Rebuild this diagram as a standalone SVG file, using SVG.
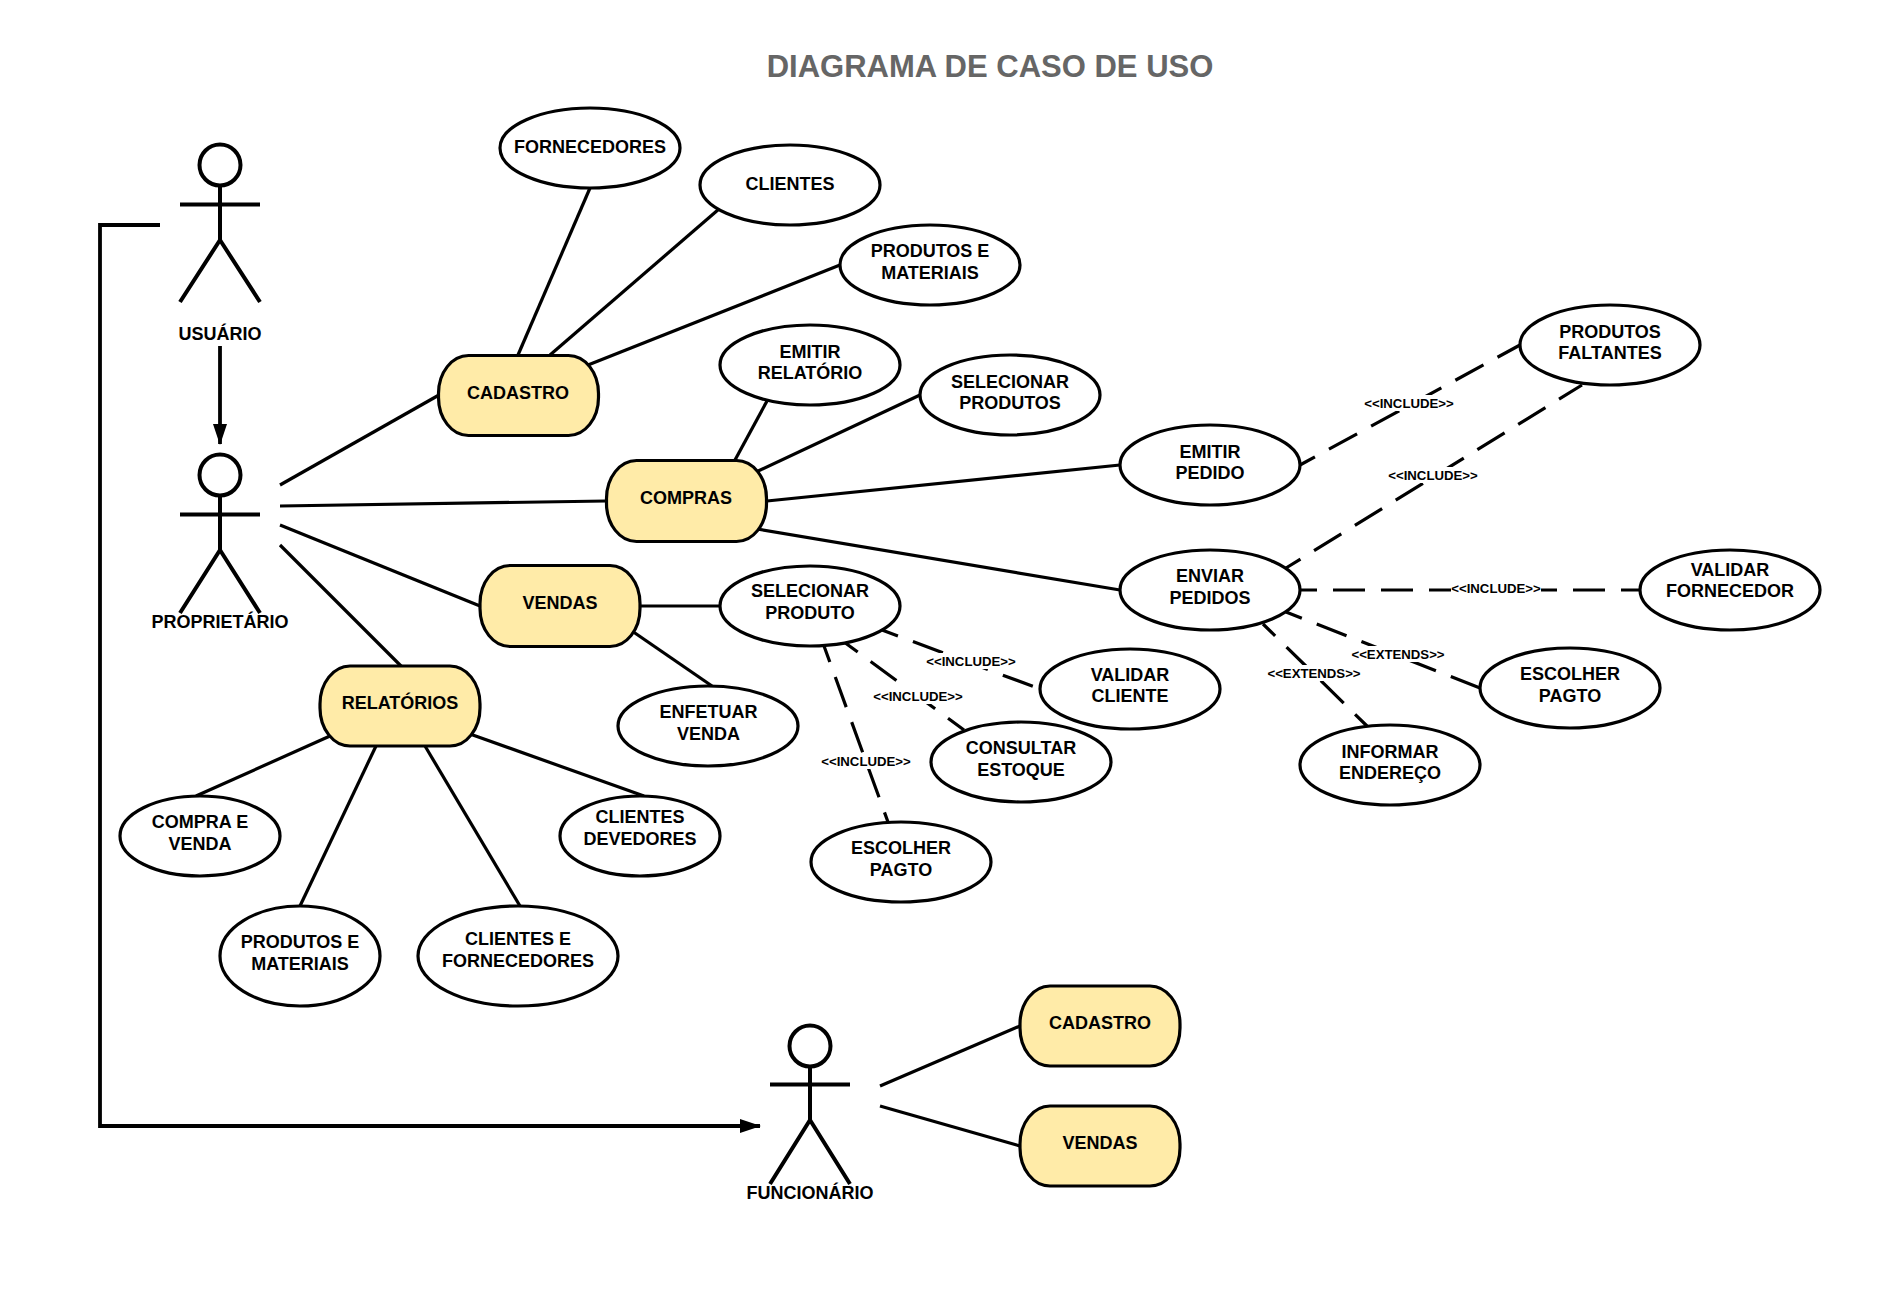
<svg xmlns="http://www.w3.org/2000/svg" width="1881" height="1289" viewBox="0 0 1881 1289">
<style>
text{font-family:"Liberation Sans",Arial,sans-serif;text-anchor:middle;fill:#000}
.t{font-size:18px;font-weight:bold}
.s{font-size:13.2px;font-weight:bold}
.title{font-size:31px;font-weight:bold;fill:#666}
.uc{fill:#fff;stroke:#000;stroke-width:3.2}
.box{fill:#ffeba8;stroke:#000;stroke-width:3.2}
.ln{fill:none;stroke:#000;stroke-width:3.2}
.da{fill:none;stroke:#000;stroke-width:3.2;stroke-dasharray:32 16;stroke-dashoffset:15}
.ar{fill:none;stroke:#000;stroke-width:3.8;marker-end:url(#tri)}
.bg{fill:#fff;stroke:none}
.actor{fill:none;stroke:#000;stroke-width:4}
</style>
<defs>
<marker id="tri" markerUnits="userSpaceOnUse" markerWidth="22" markerHeight="16" refX="20" refY="7.500" orient="auto"><path d="M0,0.500L21,7.500L0,14.500Z" fill="#000"/></marker>
</defs>
<rect width="1881" height="1289" fill="#fff"/>
<text class="title" x="990" y="77">DIAGRAMA DE CASO DE USO</text>
<g id="connectors">
<path class="ar" d="M220,346V444"/>
<path class="ar" d="M160,225H100V1126H760"/>
<path class="ln" d="M280,485L439,395"/>
<path class="ln" d="M280,506L606,501"/>
<path class="ln" d="M280,525L480,606"/>
<path class="ln" d="M280,545L402,667"/>
<path class="ln" d="M518,355L590,188"/>
<path class="ln" d="M550,355L719,209"/>
<path class="ln" d="M588,365L840,265"/>
<path class="ln" d="M735,460L767,401"/>
<path class="ln" d="M756,472L920,395"/>
<path class="ln" d="M767,501L1120,465"/>
<path class="ln" d="M757,529L1120,590"/>
<path class="ln" d="M641,606H720"/>
<path class="ln" d="M632,631L712,686"/>
<path class="ln" d="M330,736L196,796"/>
<path class="ln" d="M376,746L300,906"/>
<path class="ln" d="M425,746L520,906"/>
<path class="ln" d="M470,734L644,796"/>
<path class="ln" d="M880,1086L1020,1026"/>
<path class="ln" d="M880,1106L1020,1146"/>
<path class="da" d="M1300,465L1520,345"/>
<path class="da" d="M1286,568L1582,385"/>
<path class="da" d="M1300,590H1640"/>
<path class="da" d="M1286,612L1480,688"/>
<path class="da" d="M1263,624L1367,726"/>
<path class="da" d="M882,630L1040,689"/>
<path class="da" d="M844,642L964,730"/>
<path class="da" d="M824,646L888,822"/>
<g>
<rect class="bg" x="1364" y="395" width="90" height="16"/><text class="s" x="1409" y="408">&lt;&lt;INCLUDE&gt;&gt;</text>
<rect class="bg" x="1388" y="467" width="90" height="16"/><text class="s" x="1433" y="480">&lt;&lt;INCLUDE&gt;&gt;</text>
<rect class="bg" x="1451" y="581" width="90" height="16"/><text class="s" x="1496" y="593">&lt;&lt;INCLUDE&gt;&gt;</text>
<rect class="bg" x="1352" y="646" width="94" height="16"/><text class="s" x="1398" y="659">&lt;&lt;EXTENDS&gt;&gt;</text>
<rect class="bg" x="1268" y="665" width="94" height="16"/><text class="s" x="1314" y="678">&lt;&lt;EXTENDS&gt;&gt;</text>
<rect class="bg" x="926" y="653" width="90" height="16"/><text class="s" x="971" y="666">&lt;&lt;INCLUDE&gt;&gt;</text>
<rect class="bg" x="873" y="688" width="90" height="16"/><text class="s" x="918" y="701">&lt;&lt;INCLUDE&gt;&gt;</text>
<rect class="bg" x="821" y="753" width="90" height="16"/><text class="s" x="866" y="766">&lt;&lt;INCLUDE&gt;&gt;</text>
</g>
</g>
<g id="actor-usuario"><circle class="actor" cx="220" cy="165" r="20.500"/><path class="actor" d="M220,185.500V240M180,204.500H260M220,240L180,302M220,240L260,302"/><text class="t" x="220" y="340">USUÁRIO</text></g>
<g id="actor-proprietario"><circle class="actor" cx="220" cy="475" r="20.500"/><path class="actor" d="M220,495.500V550M180,514.500H260M220,550L180,613M220,550L260,613"/><text class="t" x="220" y="628">PROPRIETÁRIO</text></g>
<g id="actor-funcionario"><circle class="actor" cx="810" cy="1046" r="20.500"/><path class="actor" d="M810,1066.500V1120M770,1084.500H850M810,1120L770,1184M810,1120L850,1184"/><text class="t" x="810" y="1199">FUNCIONÁRIO</text></g>
<g id="cadastro"><rect class="box" x="438.500" y="355.500" width="160" height="80" rx="30" ry="38"/><text class="t" x="518" y="399">CADASTRO</text></g>
<g id="compras"><rect class="box" x="606.500" y="460.500" width="160" height="81" rx="30" ry="38"/><text class="t" x="686" y="504">COMPRAS</text></g>
<g id="vendas"><rect class="box" x="480" y="565.500" width="160" height="81" rx="30" ry="38"/><text class="t" x="560" y="609">VENDAS</text></g>
<g id="relatorios"><rect class="box" x="320" y="666" width="160" height="80" rx="30" ry="38"/><text class="t" x="400" y="709">RELATÓRIOS</text></g>
<g id="cadastro2"><rect class="box" x="1020" y="986" width="160" height="80" rx="30" ry="38"/><text class="t" x="1100" y="1029">CADASTRO</text></g>
<g id="vendas2"><rect class="box" x="1020" y="1106" width="160" height="80" rx="30" ry="38"/><text class="t" x="1100" y="1149">VENDAS</text></g>
<g id="fornecedores"><ellipse class="uc" cx="590" cy="148" rx="90" ry="40"/><text class="t" x="590" y="153">FORNECEDORES</text></g>
<g id="clientes"><ellipse class="uc" cx="790" cy="185" rx="90" ry="40"/><text class="t" x="790" y="190">CLIENTES</text></g>
<g id="produtos-materiais"><ellipse class="uc" cx="930" cy="265" rx="90" ry="40"/><text class="t" x="930" y="257">PRODUTOS E</text><text class="t" x="930" y="279">MATERIAIS</text></g>
<g id="emitir-relatorio"><ellipse class="uc" cx="810" cy="365" rx="90" ry="40"/><text class="t" x="810" y="358">EMITIR</text><text class="t" x="810" y="379">RELATÓRIO</text></g>
<g id="selecionar-produtos"><ellipse class="uc" cx="1010" cy="395" rx="90" ry="40"/><text class="t" x="1010" y="388">SELECIONAR</text><text class="t" x="1010" y="409">PRODUTOS</text></g>
<g id="emitir-pedido"><ellipse class="uc" cx="1210" cy="465" rx="90" ry="40"/><text class="t" x="1210" y="458">EMITIR</text><text class="t" x="1210" y="479">PEDIDO</text></g>
<g id="produtos-faltantes"><ellipse class="uc" cx="1610" cy="345" rx="90" ry="40"/><text class="t" x="1610" y="338">PRODUTOS</text><text class="t" x="1610" y="359">FALTANTES</text></g>
<g id="enviar-pedidos"><ellipse class="uc" cx="1210" cy="590" rx="90" ry="40"/><text class="t" x="1210" y="582">ENVIAR</text><text class="t" x="1210" y="604">PEDIDOS</text></g>
<g id="validar-fornecedor"><ellipse class="uc" cx="1730" cy="590" rx="90" ry="40"/><text class="t" x="1730" y="576">VALIDAR</text><text class="t" x="1730" y="597">FORNECEDOR</text></g>
<g id="escolher-pagto-1"><ellipse class="uc" cx="1570" cy="688" rx="90" ry="40"/><text class="t" x="1570" y="680">ESCOLHER</text><text class="t" x="1570" y="702">PAGTO</text></g>
<g id="informar-endereco"><ellipse class="uc" cx="1390" cy="765" rx="90" ry="40"/><text class="t" x="1390" y="758">INFORMAR</text><text class="t" x="1390" y="779">ENDEREÇO</text></g>
<g id="selecionar-produto"><ellipse class="uc" cx="810" cy="606" rx="90" ry="40"/><text class="t" x="810" y="597">SELECIONAR</text><text class="t" x="810" y="619">PRODUTO</text></g>
<g id="enfetuar-venda"><ellipse class="uc" cx="708" cy="726" rx="90" ry="40"/><text class="t" x="708.500" y="718">ENFETUAR</text><text class="t" x="708.500" y="740">VENDA</text></g>
<g id="validar-cliente"><ellipse class="uc" cx="1130" cy="689" rx="90" ry="40"/><text class="t" x="1130" y="681">VALIDAR</text><text class="t" x="1130" y="702">CLIENTE</text></g>
<g id="consultar-estoque"><ellipse class="uc" cx="1021" cy="762" rx="90" ry="40"/><text class="t" x="1021" y="754">CONSULTAR</text><text class="t" x="1021" y="776">ESTOQUE</text></g>
<g id="escolher-pagto-2"><ellipse class="uc" cx="901" cy="862" rx="90" ry="40"/><text class="t" x="901" y="854">ESCOLHER</text><text class="t" x="901" y="876">PAGTO</text></g>
<g id="compra-venda"><ellipse class="uc" cx="200" cy="836" rx="80" ry="40"/><text class="t" x="200" y="828">COMPRA E</text><text class="t" x="200" y="850">VENDA</text></g>
<g id="rel-produtos"><ellipse class="uc" cx="300" cy="956" rx="80" ry="50"/><text class="t" x="300" y="948">PRODUTOS E</text><text class="t" x="300" y="970">MATERIAIS</text></g>
<g id="clientes-fornecedores"><ellipse class="uc" cx="518" cy="956" rx="100" ry="50"/><text class="t" x="518" y="945">CLIENTES E</text><text class="t" x="518" y="967">FORNECEDORES</text></g>
<g id="clientes-devedores"><ellipse class="uc" cx="640" cy="836" rx="80" ry="40"/><text class="t" x="640" y="823">CLIENTES</text><text class="t" x="640" y="845">DEVEDORES</text></g>
</svg>
